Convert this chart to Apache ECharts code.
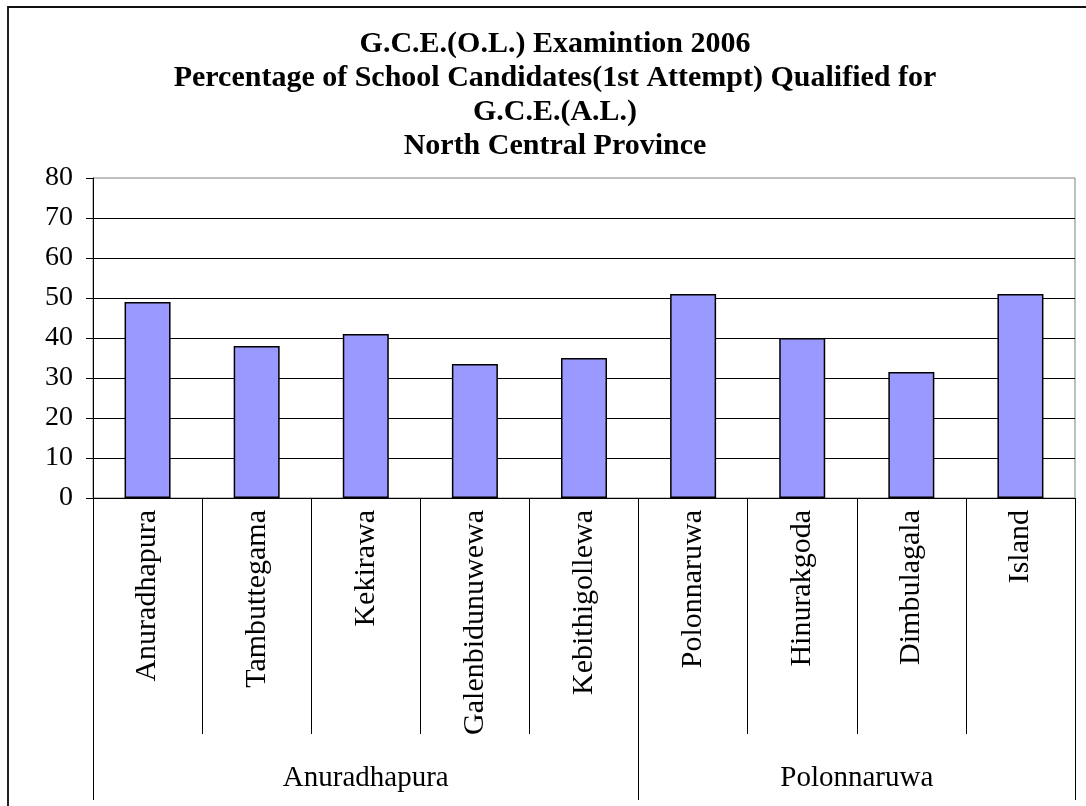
<!DOCTYPE html>
<html>
<head>
<meta charset="utf-8">
<script src="https://cdn.jsdelivr.net/npm/echarts@6/dist/echarts.min.js"></script>
<style>
  html, body { margin: 0; padding: 0; background: #fff; }
  #frame { position: absolute; left: 7px; top: 6px; width: 1079px; height: 800px;
           border-left: 2px solid #222; border-top: 2px solid #111; box-sizing: border-box; }
  #main { position: absolute; left: 0; top: 0; width: 1086px; height: 806px; }
</style>
</head>
<body>
<div id="frame"></div>
<div id="main"></div>
<script>
// districts / divisions
const categories = ['Anuradhapura', 'Tambuttegama', 'Kekirawa', 'Galenbidunuwewa', 'Kebithigollewa',
  'Polonnaruwa', 'Hinurakgoda', 'Dimbulagala', 'Island']
const values = [49, 38, 41, 33.5, 35, 51, 40, 31.5, 51]
const groupNames = ['Anuradhapura', 'Polonnaruwa']
const groupSizes = [5, 4]
const yTicks = [0, 10, 20, 30, 40, 50, 60, 70, 80]

// group boundaries and centres on a 0..n scale
const bounds = [0]
groupSizes.forEach(s => bounds.push(bounds[bounds.length - 1] + s))
const centres = groupSizes.map((s, i) => bounds[i] + s / 2)

const font = 'Liberation Serif, Times New Roman, serif'

const option = {
  animation: false,
  title: {
    text: 'G.C.E.(O.L.) Examintion 2006\nPercentage of School Candidates(1st Attempt) Qualified for\nG.C.E.(A.L.)\nNorth Central Province',
    left: 550,
    top: 22,
    textAlign: 'center',
    textStyle: { fontFamily: font, fontWeight: 'bold', fontSize: 30, lineHeight: 34, color: '#000' }
  },
  grid: {
    left: 93, right: 11, top: 178, bottom: 308,
    show: true, borderColor: '#808080', borderWidth: 1, backgroundColor: 'transparent'
  },
  xAxis: [
    {
      type: 'category',
      data: categories,
      axisLine: { lineStyle: { color: '#000', width: 1 } },
      axisTick: { show: true, interval: 0, alignWithLabel: false, length: 236, lineStyle: { color: '#000' } },
      axisLabel: { interval: 0, rotate: 90, margin: 12, fontSize: 30, fontFamily: font, color: '#000' }
    },
    {
      type: 'value',
      position: 'bottom',
      min: 0,
      max: categories.length,
      axisLine: { show: false },
      splitLine: { show: false },
      axisTick: { show: true, customValues: bounds, length: 302, lineStyle: { color: '#000' } },
      axisLabel: {
        customValues: centres,
        margin: 266,
        fontSize: 29, fontFamily: font, color: '#000',
        formatter: v => groupNames[centres.indexOf(v)] || ''
      }
    }
  ],
  yAxis: {
    type: 'value',
    min: yTicks[0],
    max: yTicks[yTicks.length - 1],
    interval: 10,
    axisLine: { show: true, lineStyle: { color: '#000' } },
    axisTick: { show: true, inside: false, length: 7, lineStyle: { color: '#000' } },
    axisLabel: { margin: 20, fontSize: 28, fontFamily: font, color: '#000' },
    splitLine: { show: true, showMaxLine: false, lineStyle: { color: '#000', width: 1 } }
  },
  series: [
    {
      type: 'bar',
      xAxisIndex: 0,
      data: values,
      barWidth: 46,
      itemStyle: { color: '#9999FF', borderColor: '#000', borderWidth: 1.5 }
    }
  ]
}

const myChart = echarts.init(document.getElementById('main'))
myChart.setOption(option)
</script>
</body>
</html>
